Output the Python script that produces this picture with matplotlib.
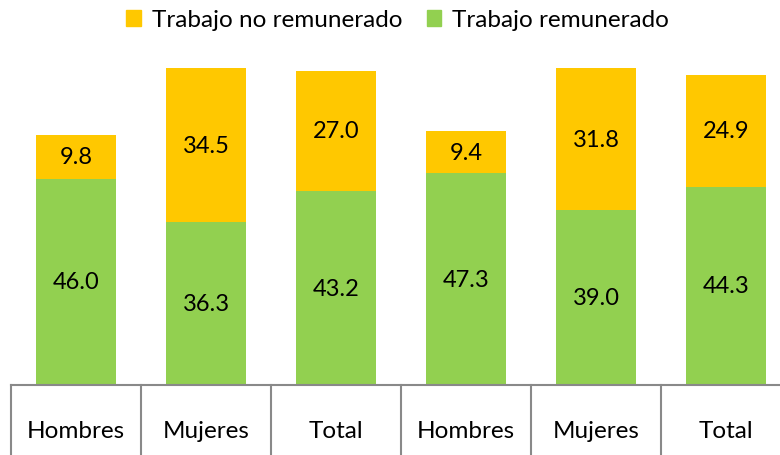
import matplotlib.pyplot as plt
import matplotlib.transforms as mtransforms
from matplotlib.patches import Patch

# Hours of work per week, by sex
categorias = ['Hombres', 'Mujeres', 'Total', 'Hombres', 'Mujeres', 'Total']
remunerado = [46.0, 36.3, 43.2, 47.3, 39.0, 44.3]
no_remunerado = [9.8, 34.5, 27.0, 9.4, 31.8, 24.9]

verde = '#92D050'
amarillo = '#FFC800'
gris = '#898989'

plt.rcParams['font.family'] = ['Lato', 'DejaVu Sans']

fig = plt.figure(figsize=(7.8, 4.56), dpi=100)
ax = fig.add_axes([11 / 780, 70 / 456, 1.0, 336 / 456])

x = list(range(len(categorias)))
ancho = 80 / 130

ax.bar(x, remunerado, width=ancho, color=verde)
ax.bar(x, no_remunerado, width=ancho, bottom=remunerado, color=amarillo)

# value labels centered in each segment
for i in x:
    ax.text(i, remunerado[i] / 2, f'{remunerado[i]:.1f}', ha='center', va='center',
            fontsize=17, color='black')
    ax.text(i, remunerado[i] + no_remunerado[i] / 2, f'{no_remunerado[i]:.1f}',
            ha='center', va='center', fontsize=17, color='black')

ax.set_xlim(-0.5, len(categorias) - 0.5)
ax.set_ylim(0, 75)
ax.set_yticks([])
ax.set_xticks([])
for s in ['top', 'right', 'left']:
    ax.spines[s].set_visible(False)
ax.spines['bottom'].set_color(gris)
ax.spines['bottom'].set_linewidth(1.5)

# table-style category row under the bars
trans = mtransforms.blended_transform_factory(ax.transData, ax.transAxes)
for i in range(len(categorias) + 1):
    ax.plot([i - 0.5, i - 0.5], [0, -0.4], color=gris, lw=1.5,
            transform=trans, clip_on=False)
for i, c in enumerate(categorias):
    ax.text(i, -0.135, c, ha='center', va='center', fontsize=17.5,
            transform=trans, color='black')

handles = [Patch(color=amarillo, label='Trabajo no remunerado'),
           Patch(color=verde, label='Trabajo remunerado')]
fig.legend(handles=handles, loc='upper center', bbox_to_anchor=(0.51, 1.025),
           ncol=2, frameon=False, fontsize=17.5, handlelength=0.6, handleheight=0.6,
           handletextpad=0.45, columnspacing=1.0)

fig.savefig('out.png', dpi=100)
